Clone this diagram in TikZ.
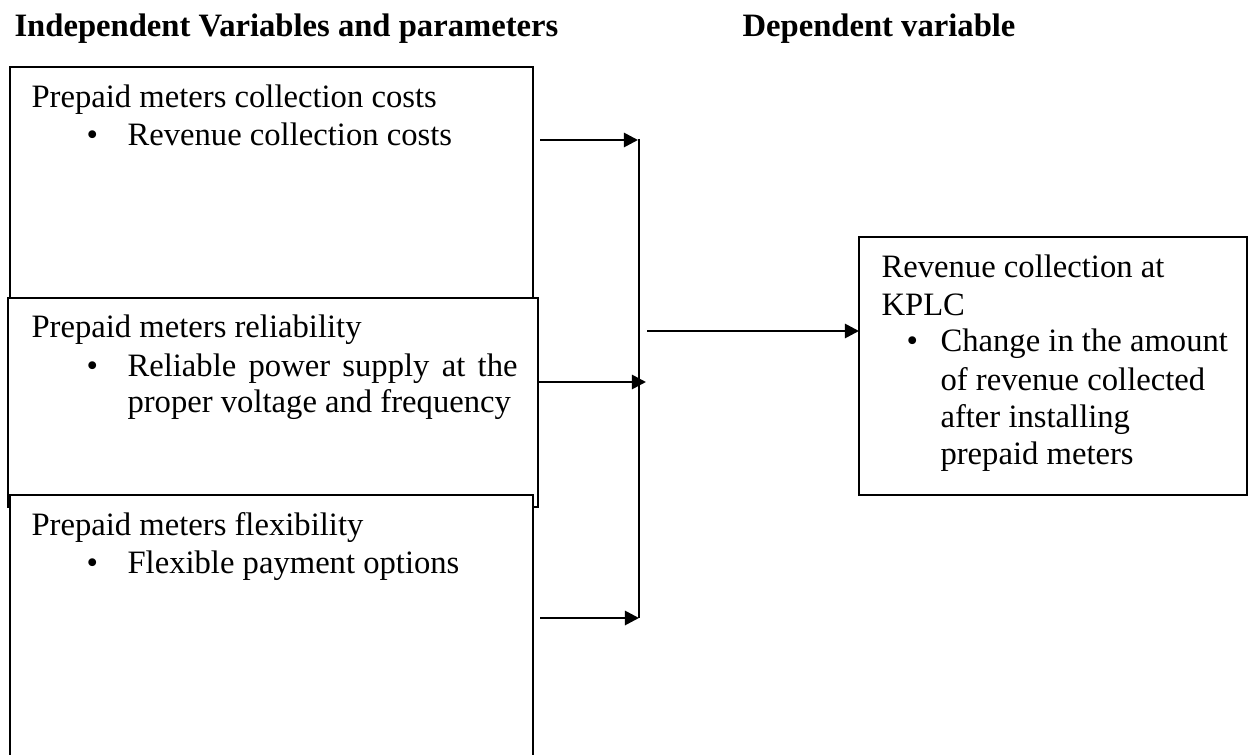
\documentclass[tikz,border=0pt]{standalone}
\usepackage{fontspec}
\setmainfont{Liberation Serif}
\usetikzlibrary{arrows.meta}
\newdimen\pxu \pxu=0.3676pt
\begin{document}
\begin{tikzpicture}[x=0.3676pt,y=-0.3676pt,
  box/.style={draw, line width=0.55pt, fill=white, anchor=north west, inner sep=0pt, outer sep=0pt},
  txt/.style={anchor=base west, inner sep=0pt, font=\fontsize{12}{13.8}\selectfont},
  head/.style={anchor=base west, inner sep=0pt, font=\fontsize{12}{13.8}\selectfont\bfseries},
  bul/.style={anchor=base west, inner sep=0pt, font=\fontsize{12}{13.8}\selectfont},
  arr/.style={line width=1pt, -{Triangle[length=5.15pt,width=5.15pt]}},
  link/.style={line width=1pt}]
\clip (0,0) rectangle (1254,755);
% headings
\node[head] (h1) at (14,37) {Independent Variables and parameters};
\node[head] (h2) at (742,37) {Dependent variable};
% boxes
\node[box, minimum width=523\pxu, minimum height=243\pxu] (b1) at (10,67) {};
\node[box, minimum width=530\pxu, minimum height=209\pxu] (b2) at (8,298) {};
\node[box, minimum width=523\pxu, minimum height=300\pxu] (b3) at (10,495) {};
\node[box, minimum width=388\pxu, minimum height=258\pxu] (rb) at (859,237) {};
% box 1 text
\node[txt] (b1t) at (31,108) {Prepaid meters collection costs};
\node[bul] (b1b) at (86,146) {•};
\node[txt] (b1i) at (127,146) {Revenue collection costs};
% box 2 text
\node[txt] (b2t) at (31,338) {Prepaid meters reliability};
\node[bul] (b2b) at (86,376) {•};
\node[txt] (b2i) at (127,376) {\makebox[390\pxu][s]{Reliable power supply at the}};
\node[txt] (b2j) at (127,413) {proper voltage and frequency};
% box 3 text
\node[txt] (b3t) at (31,535) {Prepaid meters flexibility};
\node[bul] (b3b) at (86,573) {•};
\node[txt] (b3i) at (127,573) {Flexible payment options};
% right box text
\node[txt] (r1) at (881,278) {Revenue collection at};
\node[txt] (r2) at (881,315) {KPLC};
\node[bul] (rbb) at (906,352) {•};
\node[txt] (r3) at (940,352) {Change in the amount};
\node[txt] (r4) at (940,390) {of revenue collected};
\node[txt] (r5) at (940,427) {after installing};
\node[txt] (r6) at (940,465) {prepaid meters};
% connectors
\coordinate (s1) at (540,140); \coordinate (j1) at (638,140);
\coordinate (s2) at (538,382); \coordinate (j2) at (646,382);
\coordinate (s3) at (540,618); \coordinate (j3) at (639,618);
\coordinate (vt) at (639,139); \coordinate (vb) at (639,618);
\coordinate (m0) at (647,331);
\draw[link] (vt) -- (vb);
\draw[arr] (s1) -- (j1);
\draw[arr] (s2) -- (j2);
\draw[arr] (s3) -- (j3);
\draw[arr] (m0) -- (m0 -| rb.west);
\end{tikzpicture}
\end{document}
